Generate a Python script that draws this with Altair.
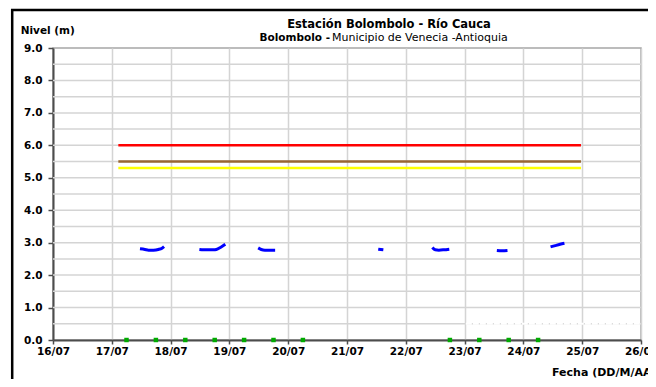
import json
import altair as alt
import pandas as pd

# ---------------- data ----------------
day_labels = ["16/07", "17/07", "18/07", "19/07", "20/07", "21/07",
              "22/07", "23/07", "24/07", "25/07", "26/07"]
y_labels = [0, 1, 2, 3, 4, 5, 6, 7, 8, 9]
y_grid = [0.5, 1, 1.5, 2, 2.5, 3, 3.5, 4, 4.5, 5, 5.5, 6, 6.5, 7, 7.5, 8, 8.5]

title_line1 = "Estación Bolombolo - Río Cauca"
title_line2_bold = "Bolombolo -"
title_line2_rest = "Municipio de Venecia -Antioquia"
y_title = "Nivel (m)"
x_title = "Fecha (DD/M/AAAA)"

seg_ids = [1] * 7 + [2] * 7 + [3] * 5 + [4] * 2 + [5] * 5 + [6] * 3 + [7] * 4
level_times = [
    "17/07 11:30", "17/07 13:30", "17/07 15:00", "17/07 17:00", "17/07 19:00", "17/07 20:30", "17/07 21:20",
    "18/07 11:45", "18/07 13:30", "18/07 15:30", "18/07 17:30", "18/07 18:40", "18/07 20:30", "18/07 22:20",
    "19/07 11:45", "19/07 13:00", "19/07 14:30", "19/07 16:30", "19/07 18:40",
    "21/07 12:45", "21/07 14:50",
    "22/07 10:50", "22/07 12:00", "22/07 13:30", "22/07 15:30", "22/07 17:45",
    "23/07 13:10", "23/07 15:20", "23/07 17:30",
    "24/07 11:05", "24/07 13:00", "24/07 15:00", "24/07 16:45",
]
level_values = [
    2.81, 2.79, 2.77, 2.77, 2.79, 2.83, 2.88,
    2.79, 2.78, 2.78, 2.78, 2.79, 2.86, 2.95,
    2.84, 2.79, 2.77, 2.77, 2.77,
    2.80, 2.78,
    2.85, 2.78, 2.77, 2.78, 2.80,
    2.76, 2.75, 2.76,
    2.87, 2.91, 2.95, 2.98,
]

rain_times = ["17/07 06:00", "17/07 18:00", "18/07 06:00", "18/07 18:00",
              "19/07 06:00", "19/07 18:00", "20/07 06:00", "22/07 18:00",
              "23/07 06:00", "23/07 18:00", "24/07 06:00"]
rain_values = [0, 0, 0, 0, 0, 0, 0, 0, 0, 0, 0]

thr_names = ["Roja", "Naranja", "Amarilla"]
thr_values = [6.0, 5.5, 5.3]
thr_colors = ["#ff0000", "#996633", "#ffff00"]
thr_start = "17/07 02:40"
thr_end = "24/07 23:30"

white_seg_start = "23/07 00:30"
white_seg_end = "26/07 00:00"
white_seg_value = 0.5


def to_day(s):
    d, rest = s.split(" ")
    dd, mm = d.split("/")
    hh, mi = rest.split(":")
    return (int(dd) - 16) + int(hh) / 24 + int(mi) / 1440


FONT = "DejaVu Sans"
W, H = 588, 292

level_df = pd.DataFrame({"seg": seg_ids,
                         "day": [to_day(t) for t in level_times],
                         "nivel": level_values})
rain_df = pd.DataFrame({"day": [to_day(t) for t in rain_times], "nivel": rain_values})
thr_df = pd.DataFrame({"name": thr_names, "v": thr_values, "color": thr_colors,
                       "d0": [to_day(thr_start)] * 3, "d1": [to_day(thr_end)] * 3})
grid_df = pd.DataFrame({"v": y_grid})
white_df = pd.DataFrame({"d0": [to_day(white_seg_start)], "d1": [to_day(white_seg_end)],
                         "v": [white_seg_value]})

label_expr = json.dumps(day_labels) + "[round(datum.value)]"

x_scale = alt.Scale(domain=[0, 10], nice=False, zero=False)
y_scale = alt.Scale(domain=[0, 9], nice=False)

x_axis = alt.Axis(values=list(range(len(day_labels))), labelExpr=label_expr, title=None,
                  grid=True, gridColor="#d4d4d4", gridWidth=1.5,
                  domainColor="#4d4d4d", domainWidth=2, tickColor="#4d4d4d", tickWidth=1.5,
                  tickSize=4, labelPadding=2, labelFont=FONT, labelFontSize=10.5,
                  labelFontWeight="bold", labelColor="#000000",
                  labelFlush=False, labelOverlap=False, zindex=0)
y_axis = alt.Axis(values=y_labels, format=".1f", title=None, grid=False,
                  domainColor="#4d4d4d", domainWidth=2, tickColor="#4d4d4d", tickWidth=1.5,
                  tickSize=5, labelPadding=6, labelFont=FONT, labelFontSize=10.5,
                  labelFontWeight="bold", labelColor="#000000",
                  labelFlush=False, labelOverlap=False, zindex=0)

grid = alt.Chart(grid_df).mark_rule(color="#d4d4d4", strokeWidth=1.5).encode(
    y=alt.Y("v:Q", scale=y_scale, axis=y_axis)
)

white = alt.Chart(white_df).mark_rule(color="#ffffff", strokeWidth=2, strokeDash=[6, 1]).encode(
    x=alt.X("d0:Q", scale=x_scale, axis=x_axis), x2="d1:Q",
    y=alt.Y("v:Q", scale=y_scale, axis=y_axis)
)

thr = alt.Chart(thr_df).mark_rule(strokeWidth=2.5).encode(
    x=alt.X("d0:Q", scale=x_scale, axis=x_axis), x2="d1:Q",
    y=alt.Y("v:Q", scale=y_scale, axis=y_axis),
    color=alt.Color("color:N", scale=None, legend=None),
)

line = alt.Chart(level_df).mark_line(color="#0000ff", strokeWidth=3, interpolate="monotone").encode(
    x=alt.X("day:Q", scale=x_scale, axis=x_axis),
    y=alt.Y("nivel:Q", scale=y_scale, axis=y_axis),
    detail="seg:N",
)

rain = alt.Chart(rain_df).mark_point(filled=True, shape="square", color="#00aa00", size=20, opacity=1).encode(
    x=alt.X("day:Q", scale=x_scale, axis=x_axis),
    y=alt.Y("nivel:Q", scale=y_scale, axis=y_axis),
)

frame = alt.Chart(pd.DataFrame({"k": [0]})).mark_rect(
    fill=None, stroke="#000000", strokeWidth=2.5
).encode(x=alt.value(-40.8), x2=alt.value(720), y=alt.value(-38), y2=alt.value(420))

t1 = alt.Chart(pd.DataFrame({"t": [title_line1]})).mark_text(
    font=FONT, fontSize=11.5, fontWeight="bold", align="center", baseline="alphabetic", color="#000"
).encode(text="t:N", x=alt.value(336), y=alt.value(-20.5))

t2a = alt.Chart(pd.DataFrame({"t": [title_line2_bold]})).mark_text(
    font=FONT, fontSize=10.5, fontWeight="bold", align="right", baseline="alphabetic", color="#000"
).encode(text="t:N", x=alt.value(277), y=alt.value(-7.5))

t2b = alt.Chart(pd.DataFrame({"t": [title_line2_rest]})).mark_text(
    font=FONT, fontSize=11, fontWeight="normal", align="left", baseline="alphabetic", color="#000"
).encode(text="t:N", x=alt.value(279), y=alt.value(-7.5))

ty = alt.Chart(pd.DataFrame({"t": [y_title]})).mark_text(
    font=FONT, fontSize=10.5, fontWeight="bold", align="left", baseline="alphabetic", color="#000"
).encode(text="t:N", x=alt.value(-32.3), y=alt.value(-14))

tx = alt.Chart(pd.DataFrame({"t": [x_title]})).mark_text(
    font=FONT, fontSize=11, fontWeight="bold", align="left", baseline="alphabetic", color="#000"
).encode(text="t:N", x=alt.value(499), y=alt.value(328))

chart = alt.layer(grid, white, thr, line, rain, frame, t1, t2a, t2b, ty, tx).properties(
    width=W, height=H,
    autosize=alt.AutoSizeParams(type="none"),
    padding={"left": 45, "top": 40, "right": 7, "bottom": 39},
    background="#ffffff",
).configure_view(stroke="#a6a6a6", strokeWidth=1.5)

chart.save("out.html", embed_options={"renderer": "svg", "actions": False})
